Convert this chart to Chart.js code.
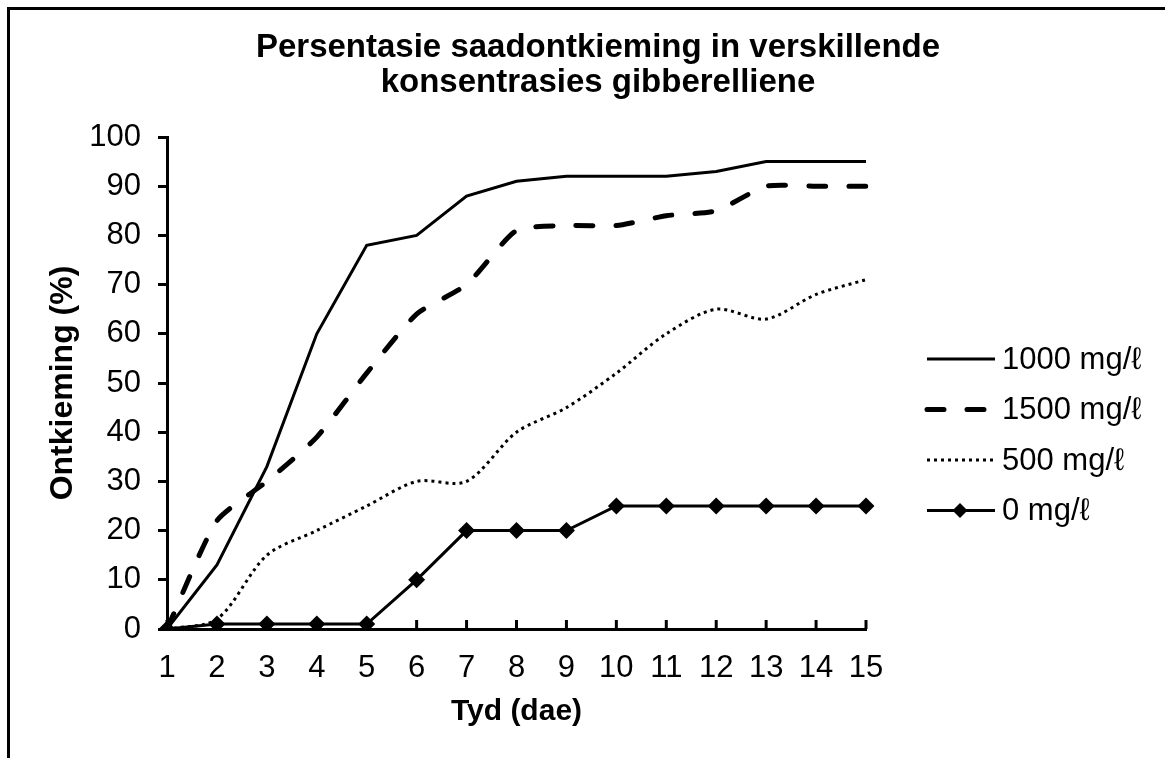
<!DOCTYPE html>
<html>
<head>
<meta charset="utf-8">
<script src="https://cdn.jsdelivr.net/npm/chart.js@4.4.0/dist/chart.umd.min.js"></script>
<style>
  body { margin: 0; background: #fff; }
  #wrap { position: relative; width: 1165px; height: 758px; }
  #frame { position: absolute; left: 7px; top: 7px; right: 0; bottom: 0; border-top: 3px solid #000; border-left: 3px solid #000; pointer-events: none; }
</style>
</head>
<body>
<div id="wrap"><canvas id="chart"></canvas><div id="frame"></div></div>
<script>
// data
const days = ["1", "2", "3", "4", "5", "6", "7", "8", "9", "10", "11", "12", "13", "14", "15"];
const conc1000 = [0, 13, 33, 60, 78, 80, 88, 91, 92, 92, 92, 93, 95, 95, 95];
const conc1500 = [0, 22, 30, 39, 52, 64, 70, 81, 82, 82, 84, 85, 90, 90, 90];
const conc500 = [0, 2, 15, 20, 25, 30, 30, 40, 45, 52, 60, 65, 63, 68, 71];
const conc0 = [0, 1, 1, 1, 1, 10, 20, 20, 20, 25, 25, 25, 25, 25, 25];
const seriesNames = ["1000 mg/\u2113", "1500 mg/\u2113", "500 mg/\u2113", "0 mg/\u2113"];
const titleLines = ["Persentasie saadontkieming in verskillende", "konsentrasies gibberelliene"];

const FONT = "'Liberation Sans', Arial, sans-serif";

// title drawn by hand so it can sit off-centre like the original
const titlePlugin = {
    id: "titleText",
    afterDraw(chart) {
        const ctx = chart.ctx;
        ctx.save();
        ctx.fillStyle = "#000";
        ctx.font = "bold 33px " + FONT;
        ctx.textAlign = "center";
        ctx.textBaseline = "middle";
        titleLines.forEach((t, i) => ctx.fillText(t, 598, 48 + i * 35));
        ctx.restore();
    }
};

// x ticks point up into the plot
const innerTicks = {
    id: "innerTicks",
    beforeDatasetsDraw(chart) {
        const ctx = chart.ctx;
        const xs = chart.scales.x;
        const bottom = chart.chartArea.bottom;
        ctx.save();
        ctx.strokeStyle = "#000";
        ctx.lineWidth = 3;
        ctx.beginPath();
        xs.ticks.forEach((t, i) => {
            const px = xs.getPixelForTick(i);
            ctx.moveTo(px, bottom);
            ctx.lineTo(px, bottom - 9);
        });
        ctx.stroke();
        ctx.restore();
    }
};

// legend on the right with line samples
const sideLegend = {
    id: "sideLegend",
    afterDraw(chart) {
        const ctx = chart.ctx;
        ctx.save();
        chart.data.datasets.forEach((ds, i) => {
            const y = 359 + i * 50.5;
            ctx.strokeStyle = "#000";
            ctx.lineWidth = ds.borderWidth;
            ctx.lineCap = ds.borderCapStyle || "butt";
            ctx.setLineDash(ds.borderDash || []);
            ctx.beginPath();
            ctx.moveTo(927, y);
            ctx.lineTo(995, y);
            ctx.stroke();
            ctx.setLineDash([]);
            if (ds.pointRadius > 0) {
                ctx.fillStyle = "#000";
                ctx.beginPath();
                ctx.moveTo(960, y - 7.5);
                ctx.lineTo(967.5, y);
                ctx.lineTo(960, y + 7.5);
                ctx.lineTo(952.5, y);
                ctx.closePath();
                ctx.fill();
            }
            ctx.fillStyle = "#000";
            ctx.font = "31px " + FONT;
            ctx.textAlign = "left";
            ctx.textBaseline = "middle";
            ctx.fillText(ds.label, 1002, y + 1);
        });
        ctx.restore();
    }
};

const ctx = document.getElementById("chart").getContext("2d");
new Chart(ctx, {
    type: "line",
    data: {
        labels: days,
        datasets: [
            {
                label: seriesNames[0],
                data: conc1000,
                borderColor: "#000",
                borderWidth: 3,
                pointRadius: 0,
                tension: 0,
            },
            {
                label: seriesNames[1],
                data: conc1500,
                borderColor: "#000",
                borderWidth: 5,
                borderDash: [17, 23],
                borderCapStyle: "round",
                pointRadius: 0,
                tension: 0.2,
            },
            {
                label: seriesNames[2],
                data: conc500,
                borderColor: "#000",
                borderWidth: 3,
                borderDash: [3, 4],
                pointRadius: 0,
                tension: 0.3,
            },
            {
                label: seriesNames[3],
                data: conc0,
                borderColor: "#000",
                borderWidth: 3,
                pointStyle: "rectRot",
                pointRadius: 8.5,
                pointBackgroundColor: "#000",
                pointBorderColor: "#000",
                pointBorderWidth: 0,
                tension: 0,
            },
        ],
    },
    options: {
        responsive: true,
        maintainAspectRatio: false,
        animation: false,
        layout: { padding: { top: 137, right: 299, bottom: 0, left: 0 } },
        plugins: {
            legend: { display: false },
            title: { display: false },
            tooltip: { enabled: false },
        },
        scales: {
            x: {
                offset: false,
                grid: { display: false, drawTicks: false },
                border: { display: true, color: "#000", width: 3 },
                ticks: { color: "#000", font: { family: FONT, size: 31 }, padding: 21, maxRotation: 0, autoSkip: false },
                title: { display: true, text: "Tyd (dae)", color: "#000", font: { family: FONT, size: 30, weight: "bold" }, padding: { top: 0, bottom: 28 } },
                afterFit(scale) { scale.height = 129; },
            },
            y: {
                min: 0,
                max: 100,
                grid: { drawOnChartArea: false, drawTicks: true, tickLength: 9, color: "#000", lineWidth: 3 },
                border: { display: true, color: "#000", width: 3 },
                ticks: { stepSize: 10, color: "#000", font: { family: FONT, size: 31 }, padding: 17 },
                title: { display: true, text: "Ontkieming (%)", color: "#000", font: { family: FONT, size: 32, weight: "bold" }, padding: { top: 44, bottom: 0 } },
                afterFit(scale) { scale.width = 167; },
            },
        },
    },
    plugins: [innerTicks, titlePlugin, sideLegend],
});
</script>
</body>
</html>
